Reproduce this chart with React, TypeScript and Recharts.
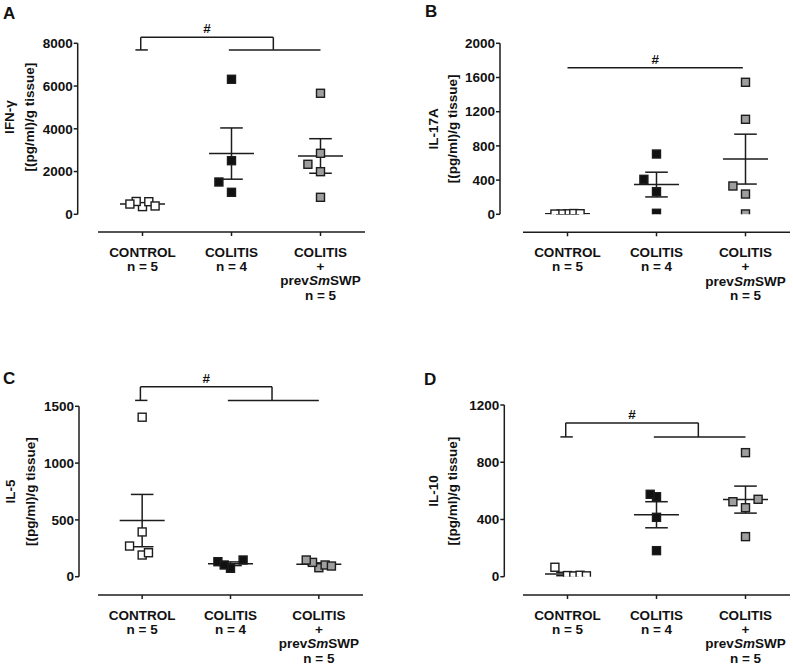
import React from 'react'
import { ErrorBar, ReferenceLine, Scatter, ScatterChart, XAxis, YAxis } from 'recharts'

// groups on the x axis
const GROUP_NAMES = [['CONTROL'], ['COLITIS'], ['COLITIS', '+', 'prev|Sm|SWP']]
const GROUP_N = [5, 4, 5]

// A: IFN-gamma
const IFNG_CONTROL = [360, 600, 590, 480, 390]
const IFNG_COLITIS = [1029, 1511, 2508, 6317]
const IFNG_SMSWP = [795, 1994, 2340, 2854, 5662]
const IFNG_TICKS = [0, 2000, 4000, 6000, 8000]

// B: IL-17A
const IL17_CONTROL = [6, 4, 9, 3, 7]
const IL17_COLITIS = [12, 265, 409, 705]
const IL17_SMSWP = [4, 237, 331, 1111, 1544]
const IL17_TICKS = [0, 400, 800, 1200, 1600, 2000]

// C: IL-5
const IL5_CONTROL = [191, 270, 211, 394, 1404]
const IL5_COLITIS = [74, 132, 147, 103]
const IL5_SMSWP = [79, 126, 147, 103, 94]
const IL5_TICKS = [0, 500, 1000, 1500]

// D: IL-10
const IL10_CONTROL = [8, 66, 5, 10, 6]
const IL10_COLITIS = [182, 415, 559, 576]
const IL10_SMSWP = [280, 482, 524, 541, 867]
const IL10_TICKS = [0, 400, 800, 1200]

// "#" brackets: control vs the two colitis groups (foot / top level in axis units)
const IFNG_SIG = { kind: 'split', foot: 7690, top: 8280 }
const IL17_SIG = { kind: 'line', foot: 1715 }
const IL5_SIG = { kind: 'split', foot: 1552, top: 1671 }
const IL10_SIG = { kind: 'split', foot: 977, top: 1075 }

const FONT = '"Liberation Sans", Arial, Helvetica, sans-serif'
const INK = '#1c1c1c'
const FILLS = ['#ffffff', '#111111', '#9e9e9e']
const SLOT_PX = 6.3
const X_AXIS_H = 70

type Frame = {
  left: number
  top: number
  width: number
  height: number
  yAxisX: number
  xStart: number
  xEnd: number
  yTop: number
  yZero: number
  xLineY: number
  titleX: [number, number]
  titleY: number
  letterPos: [number, number]
}

const FRAME_A: Frame = { left: 0, top: 0, width: 400, height: 330, yAxisX: 77.7, xStart: 98, xEnd: 365, yTop: 43.3, yZero: 214.3, xLineY: 232, titleX: [13.5, 33.5], titleY: 117, letterPos: [3, 19] }
const FRAME_B: Frame = { left: 400, top: 0, width: 393, height: 330, yAxisX: 500, xStart: 523, xEnd: 790, yTop: 43.3, yZero: 214.3, xLineY: 232.3, titleX: [438, 457], titleY: 128.8, letterPos: [425, 17] }
const FRAME_C: Frame = { left: 0, top: 330, width: 400, height: 341, yAxisX: 79, xStart: 98, xEnd: 363, yTop: 406.3, yZero: 576.7, xLineY: 595, titleX: [15, 34.5], titleY: 491.5, letterPos: [3, 383.5] }
const FRAME_D: Frame = { left: 400, top: 330, width: 393, height: 341, yAxisX: 504.3, xStart: 523, xEnd: 790, yTop: 405, yZero: 576.7, xLineY: 595, titleX: [438, 457], titleY: 491, letterPos: [424, 385] }

// spread points sideways when they would overlap (like a dot plot)
function swarm(values: number[], pxPerUnit: number, catPx: number) {
  const placed: { slot: number; py: number }[] = []
  return values.map((v) => {
    const py = v * pxPerUnit
    for (let k = 0; k < 30; k++) {
      const slot = k === 0 ? 0 : k % 2 ? -Math.ceil(k / 2) : Math.ceil(k / 2)
      const ok = placed.every((p) => {
        const dx = Math.abs(p.slot - slot) * SLOT_PX
        const dy = Math.abs(p.py - py)
        if (dy < 6) return dx >= 6
        if (dy < 13) return dx >= 10
        return true
      })
      if (ok) {
        placed.push({ slot, py })
        return (slot * SLOT_PX) / catPx
      }
    }
    return 0
  })
}

function meanSem(values: number[]) {
  const n = values.length
  const mean = values.reduce((s, v) => s + v, 0) / n
  const sd = Math.sqrt(values.reduce((s, v) => s + (v - mean) ** 2, 0) / (n - 1))
  return { mean, sem: sd / Math.sqrt(n) }
}

function RichLine({ text }: { text: string }) {
  const parts = text.split('|')
  return (
    <>
      {parts.map((p, i) => (
        <tspan key={i} fontStyle={i % 2 ? 'italic' : 'normal'}>{p}</tspan>
      ))}
    </>
  )
}

function GroupTick(props: any) {
  const { x, y, payload } = props
  const g = Number(payload?.value ?? 0)
  const lines = [...GROUP_NAMES[g], `n = ${GROUP_N[g]}`]
  return (
    <g>
      {lines.map((ln, i) => (
        <text key={i} x={x} y={y + 18.7 + i * 14.3} textAnchor="middle" fill="#111" fontSize={13.5} fontWeight={700} fontFamily={FONT}>
          <RichLine text={ln} />
        </text>
      ))}
    </g>
  )
}

function Square(props: any, fill: string) {
  const { cx, cy } = props
  if (cx == null || cy == null) return <g />
  return <rect x={cx - 4} y={cy - 4} width={8} height={8} fill={fill} stroke={INK} strokeWidth={1.4} />
}

function MeanLine(props: any) {
  const { cx, cy } = props
  if (cx == null || cy == null) return <g />
  return <line x1={cx - 22.5} x2={cx + 22.5} y1={cy} y2={cy} stroke={INK} strokeWidth={1.5} />
}

function Panel({ frame, groups, ticks, sig }: { frame: Frame; groups: number[][]; ticks: number[]; sig: any }) {
  const yMax = ticks[ticks.length - 1]
  const pxPerUnit = (frame.yZero - frame.yTop) / yMax
  const catPx = (frame.xEnd - frame.xStart) / 3
  const padLeft = frame.xStart - frame.yAxisX
  const plotBottom = frame.xLineY - frame.top
  const margin = {
    top: frame.yTop - frame.top,
    left: 0,
    right: frame.left + frame.width - frame.xEnd,
    bottom: frame.height - plotBottom - X_AXIS_H,
  }

  const points = groups.map((vals, g) => {
    const offs = swarm(vals, pxPerUnit, catPx)
    return vals.map((v, i) => ({ x: g + offs[i], y: v }))
  })
  const means = groups.map((vals, g) => {
    const { mean, sem } = meanSem(vals)
    return { x: g, y: mean, sem }
  })

  const lineStyle = { stroke: INK, strokeWidth: 1.5 }
  const hash = { value: '#', position: 'top' as const, offset: 4, fill: '#111', fontSize: 13.5, fontWeight: 700, fontFamily: FONT }

  let brackets: React.ReactNode = null
  if (sig.kind === 'line') {
    brackets = (
      <ReferenceLine segment={[{ x: 0, y: sig.foot }, { x: 1.97, y: sig.foot }]} ifOverflow="visible" {...lineStyle} label={hash} />
    )
  } else {
    const lx = -0.02
    const mid = 1.47
    brackets = (
      <>
        <ReferenceLine segment={[{ x: -0.08, y: sig.foot }, { x: 0.06, y: sig.foot }]} ifOverflow="visible" {...lineStyle} />
        <ReferenceLine segment={[{ x: lx, y: sig.foot }, { x: lx, y: sig.top }]} ifOverflow="visible" {...lineStyle} />
        <ReferenceLine segment={[{ x: lx, y: sig.top }, { x: mid, y: sig.top }]} ifOverflow="visible" {...lineStyle} label={hash} />
        <ReferenceLine segment={[{ x: mid, y: sig.top }, { x: mid, y: sig.foot }]} ifOverflow="visible" {...lineStyle} />
        <ReferenceLine segment={[{ x: 0.97, y: sig.foot }, { x: 2, y: sig.foot }]} ifOverflow="visible" {...lineStyle} />
      </>
    )
  }

  return (
    <div style={{ position: 'absolute', left: frame.left, top: frame.top }}>
      <ScatterChart width={frame.width} height={frame.height} margin={margin}>
        <XAxis
          type="number"
          dataKey="x"
          domain={[-0.5, 2.5]}
          ticks={[0, 1, 2]}
          interval={0}
          allowDataOverflow
          padding={{ left: padLeft, right: 0 }}
          height={X_AXIS_H}
          tickSize={4}
          tickMargin={2}
          axisLine={{ ...lineStyle, strokeDasharray: `0 ${padLeft} ${frame.xEnd - frame.xStart} 3000` }}
          tickLine={lineStyle}
          tick={<GroupTick />}
        />
        <YAxis
          type="number"
          dataKey="y"
          domain={[0, yMax]}
          ticks={ticks}
          interval={0}
          allowDataOverflow
          width={frame.yAxisX - frame.left}
          padding={{ top: 0, bottom: frame.xLineY - frame.yZero }}
          tickSize={4}
          tickMargin={1}
          axisLine={{ ...lineStyle, strokeDasharray: `${frame.yZero - frame.yTop} 3000` }}
          tickLine={lineStyle}
          tick={{ fill: '#111', fontSize: 13.5, fontWeight: 700, fontFamily: FONT }}
        />
        {brackets}
        <Scatter data={means} shape={MeanLine} isAnimationActive={false}>
          <ErrorBar dataKey="sem" direction="y" width={11.3} stroke={INK} strokeWidth={1.5} isAnimationActive={false} />
        </Scatter>
        {points.map((pts, g) => (
          <Scatter key={g} data={pts} shape={(p: any) => Square(p, FILLS[g])} isAnimationActive={false} />
        ))}
      </ScatterChart>
    </div>
  )
}

function Overlay() {
  const items: { frame: Frame; letter: string; title: string }[] = [
    { frame: FRAME_A, letter: 'A', title: 'IFN-γ' },
    { frame: FRAME_B, letter: 'B', title: 'IL-17A' },
    { frame: FRAME_C, letter: 'C', title: 'IL-5' },
    { frame: FRAME_D, letter: 'D', title: 'IL-10' },
  ]
  return (
    <svg width={793} height={671} style={{ position: 'absolute', left: 0, top: 0, pointerEvents: 'none' }}>
      {items.map(({ frame, letter, title }) => {
        const cy = frame.titleY
        const txt = { fill: '#111', fontWeight: 700, fontFamily: FONT, textAnchor: 'middle' as const }
        return (
          <g key={letter}>
            <text x={frame.letterPos[0]} y={frame.letterPos[1]} fill="#111" fontSize={17} fontWeight={700} fontFamily={FONT}>{letter}</text>
            <text transform={`translate(${frame.titleX[0]},${cy}) rotate(-90)`} fontSize={13.5} {...txt}>{title}</text>
            <text transform={`translate(${frame.titleX[1]},${cy}) rotate(-90)`} fontSize={13.5} {...txt}>[(pg/ml)/g tissue]</text>
          </g>
        )
      })}
    </svg>
  )
}

export default function App() {
  return (
    <div style={{ position: 'absolute', left: 0, top: 0, width: 793, height: 671, background: '#fff', overflow: 'hidden' }}>
      <Panel frame={FRAME_A} groups={[IFNG_CONTROL, IFNG_COLITIS, IFNG_SMSWP]} ticks={IFNG_TICKS} sig={IFNG_SIG} />
      <Panel frame={FRAME_B} groups={[IL17_CONTROL, IL17_COLITIS, IL17_SMSWP]} ticks={IL17_TICKS} sig={IL17_SIG} />
      <Panel frame={FRAME_C} groups={[IL5_CONTROL, IL5_COLITIS, IL5_SMSWP]} ticks={IL5_TICKS} sig={IL5_SIG} />
      <Panel frame={FRAME_D} groups={[IL10_CONTROL, IL10_COLITIS, IL10_SMSWP]} ticks={IL10_TICKS} sig={IL10_SIG} />
      <Overlay />
    </div>
  )
}
